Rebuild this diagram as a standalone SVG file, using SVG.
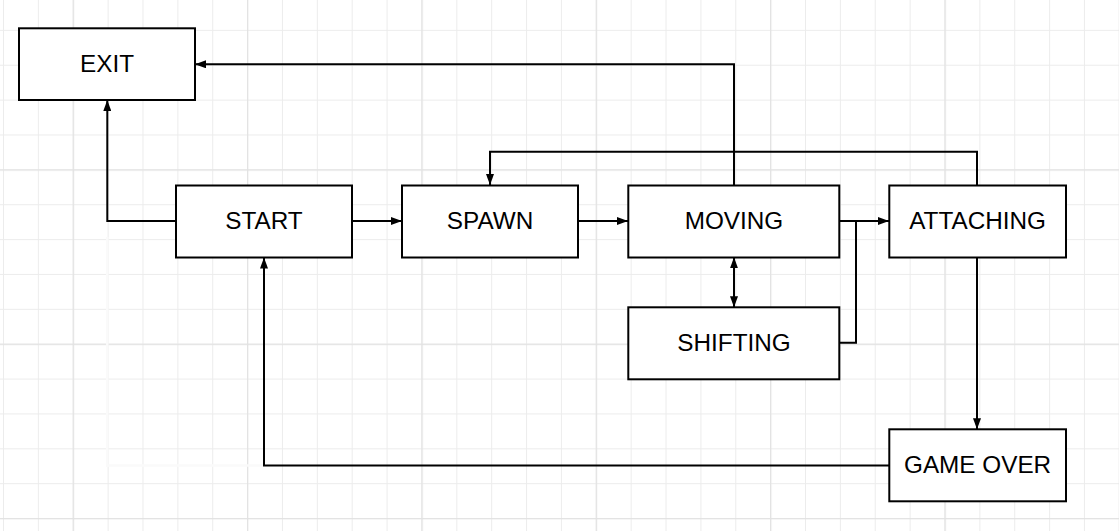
<svg xmlns="http://www.w3.org/2000/svg" width="1119" height="531" viewBox="0 0 1119 531">
<defs>
<pattern id="minor" x="3" y="-5" width="34.87" height="34.87" patternUnits="userSpaceOnUse">
<path d="M0 0 V34.87 M0 0 H34.87" fill="none" stroke="#ececec" stroke-width="2"/>
</pattern>
<pattern id="major" x="72.7" y="-5" width="174.35" height="174.35" patternUnits="userSpaceOnUse">
<path d="M0 0 V174.35 M0 0 H174.35" fill="none" stroke="#e2e2e2" stroke-width="2.5"/>
</pattern>
<marker id="arr" viewBox="0 0 11 8" refX="11" refY="4" markerWidth="11" markerHeight="8" markerUnits="userSpaceOnUse" orient="auto-start-reverse">
<path d="M0 0 L11 4 L0 8 Z" fill="#000"/>
</marker>
<style>
.box rect{fill:#fff;stroke:#000;stroke-width:2}
.box text{font-family:"Liberation Sans",Arial,sans-serif;font-size:24.3px;fill:#000;text-anchor:middle}
#connectors path{fill:none;stroke:#000;stroke-width:2}
</style>
</defs>
<rect width="1119" height="531" fill="#fff"/>
<rect width="1119" height="531" fill="url(#minor)"/>
<rect width="1119" height="531" fill="url(#major)"/>
<path d="M107.3 237 V467 M107 465.5 H263" stroke="#fafafa" stroke-width="2.5"/>
<g id="connectors">
<path d="M176 221 H107.3 V100" marker-end="url(#arr)"/>
<path d="M734 185 V64.3 H195" marker-end="url(#arr)"/>
<path d="M977 185 V151.7 H490 V185" marker-end="url(#arr)"/>
<path d="M352 221 H402" marker-end="url(#arr)"/>
<path d="M578 221 H628" marker-end="url(#arr)"/>
<path d="M839 221 H889" marker-end="url(#arr)"/>
<path d="M839 342.7 H856 V221"/>
<path d="M734 257.3 V307.3" marker-start="url(#arr)" marker-end="url(#arr)"/>
<path d="M977 257.3 V429.3" marker-end="url(#arr)"/>
<path d="M889 465.5 H264 V257.5" marker-end="url(#arr)"/>
</g>
<g id="exit" class="box"><rect x="19" y="28.3" width="176" height="71.7"/><text x="107" y="72">EXIT</text></g>
<g id="start" class="box"><rect x="176" y="185.5" width="176" height="72"/><text x="264" y="229.2">START</text></g>
<g id="spawn" class="box"><rect x="402" y="185.5" width="176" height="72"/><text x="490" y="229.2">SPAWN</text></g>
<g id="moving" class="box"><rect x="628.3" y="185.5" width="211" height="72"/><text x="734" y="229.2">MOVING</text></g>
<g id="attaching" class="box"><rect x="889.3" y="185.5" width="176.7" height="72"/><text x="977.6" y="229.2">ATTACHING</text></g>
<g id="shifting" class="box"><rect x="628.3" y="307.3" width="211" height="72"/><text x="734" y="351">SHIFTING</text></g>
<g id="gameover" class="box"><rect x="889.3" y="429.3" width="176.7" height="72"/><text x="977.6" y="473">GAME OVER</text></g>
</svg>
